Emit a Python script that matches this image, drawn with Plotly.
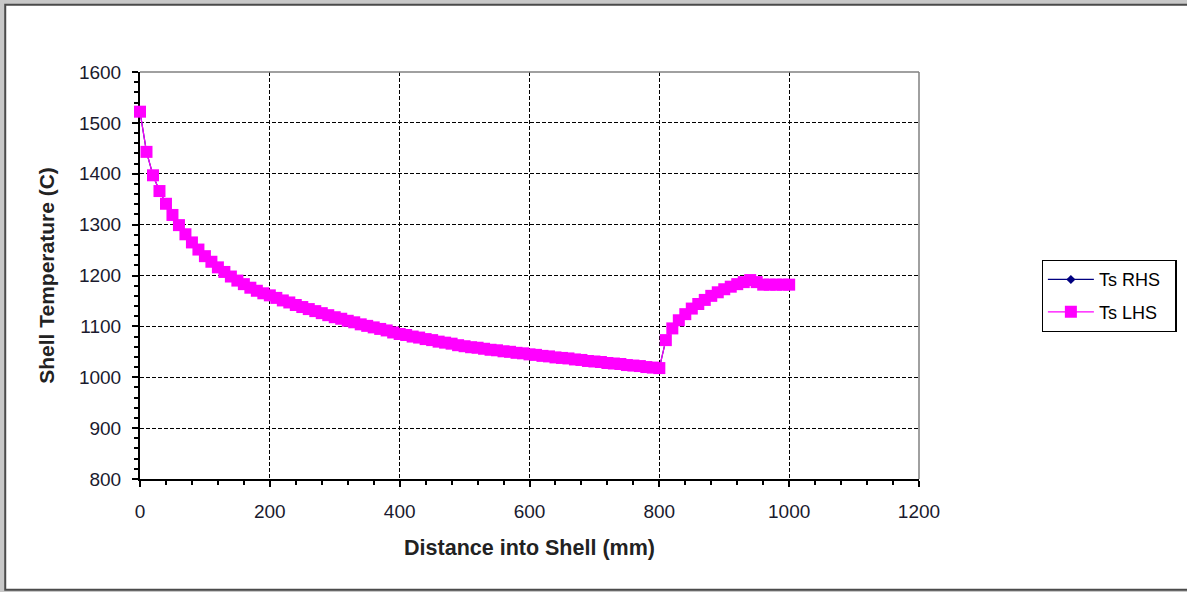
"""Shell temperature profile: Ts RHS / Ts LHS vs distance into shell."""
import plotly.graph_objects as go

# distance into shell (mm), 10 mm steps
dist_mm = [
    0, 10, 20, 30, 40, 50, 60, 70, 80, 90,
    100, 110, 120, 130, 140, 150, 160, 170, 180, 190,
    200, 210, 220, 230, 240, 250, 260, 270, 280, 290,
    300, 310, 320, 330, 340, 350, 360, 370, 380, 390,
    400, 410, 420, 430, 440, 450, 460, 470, 480, 490,
    500, 510, 520, 530, 540, 550, 560, 570, 580, 590,
    600, 610, 620, 630, 640, 650, 660, 670, 680, 690,
    700, 710, 720, 730, 740, 750, 760, 770, 780, 790,
    800, 810, 820, 830, 840, 850, 860, 870, 880, 890,
    900, 910, 920, 930, 940, 950, 960, 970, 980, 990,
    1000,
]

ts_lhs = [
    1522, 1443, 1397, 1366, 1341, 1319, 1299, 1281, 1265, 1251,
    1238, 1227, 1216, 1207, 1198, 1190, 1183, 1176, 1170, 1165,
    1161, 1156, 1151, 1147, 1142, 1138, 1134, 1130, 1126, 1122,
    1118, 1115, 1111, 1108, 1104, 1101, 1098, 1095, 1092, 1088,
    1085, 1083, 1080, 1078, 1075, 1073, 1070, 1068, 1066, 1063,
    1061, 1059, 1058, 1056, 1054, 1053, 1051, 1050, 1048, 1047,
    1045, 1044, 1042, 1041, 1039, 1038, 1037, 1035, 1034, 1032,
    1031, 1030, 1028, 1027, 1026, 1024, 1023, 1022, 1020, 1019,
    1018, 1073, 1096, 1112, 1124, 1135, 1144, 1152, 1160, 1167,
    1173, 1178, 1183, 1187, 1191, 1187, 1182, 1182, 1182, 1182,
    1182,
]

# RHS curve sits underneath the LHS one (same readings)
ts_rhs = [
    1522, 1443, 1397, 1366, 1341, 1319, 1299, 1281, 1265, 1251,
    1238, 1227, 1216, 1207, 1198, 1190, 1183, 1176, 1170, 1165,
    1161, 1156, 1151, 1147, 1142, 1138, 1134, 1130, 1126, 1122,
    1118, 1115, 1111, 1108, 1104, 1101, 1098, 1095, 1092, 1088,
    1085, 1083, 1080, 1078, 1075, 1073, 1070, 1068, 1066, 1063,
    1061, 1059, 1058, 1056, 1054, 1053, 1051, 1050, 1048, 1047,
    1045, 1044, 1042, 1041, 1039, 1038, 1037, 1035, 1034, 1032,
    1031, 1030, 1028, 1027, 1026, 1024, 1023, 1022, 1020, 1019,
    1018, 1073, 1096, 1112, 1124, 1135, 1144, 1152, 1160, 1167,
    1173, 1178, 1183, 1187, 1191, 1187, 1182, 1182, 1182, 1182,
    1182,
]

FONT = "Arial, Liberation Sans, sans-serif"
INK = "#1a1a2e"
WINDOW = "#c8c8c8"
PAD = "&nbsp;&nbsp;"  # Excel legend keeps some room after the text

fig = go.Figure()

fig.add_trace(go.Scatter(
    x=dist_mm, y=ts_rhs, mode="lines+markers", name="Ts RHS" + PAD,
    legendgroup="rhs", cliponaxis=False,
    line=dict(color="#000080", width=1.2),
    marker=dict(symbol="diamond", size=7, color="#000080"),
))
fig.add_trace(go.Scatter(
    x=dist_mm, y=ts_lhs, mode="lines+markers", name="Ts LHS" + PAD,
    legendgroup="lhs", cliponaxis=False,
    line=dict(color="#FF00FF", width=1.2),
    marker=dict(symbol="square", size=12, color="#FF00FF"),
))

# chart frame (white sheet on grey window) + grey plot-area edges
fig.add_shape(type="rect", xref="paper", yref="paper",
              x0=-0.173, x1=1.36, y0=-0.272, y1=1.165,
              fillcolor="white", line=dict(color="#4a4a4a", width=2),
              layer="below")
fig.add_shape(type="line", xref="x domain", yref="y domain",
              x0=0, x1=1, y0=1, y1=1, line=dict(color="#808080", width=1.5))
fig.add_shape(type="line", xref="x domain", yref="y domain",
              x0=1, x1=1, y0=0, y1=1, line=dict(color="#808080", width=1.5))

fig.update_layout(
    width=1187, height=592,
    margin=dict(l=140, r=267, t=72, b=113),
    paper_bgcolor=WINDOW,
    plot_bgcolor="#c0c0c0",
    font=dict(family=FONT, color=INK, size=19),
    showlegend=True,
    legend=dict(
        x=1.156, y=0.538, xanchor="left", yanchor="top",
        bgcolor="white", bordercolor="black", borderwidth=1.2,
        font=dict(family=FONT, size=18, color="black"),
        traceorder="grouped", tracegroupgap=6, itemwidth=46,
    ),
)

fig.update_xaxes(
    range=[0, 1200], tick0=0, dtick=200,
    showline=True, linecolor="black", linewidth=2,
    ticks="outside", ticklen=6, tickcolor="black", tickwidth=1.5,
    minor=dict(dtick=40, ticks="outside", ticklen=4, tickcolor="black",
               tickwidth=1.5, showgrid=False),
    showgrid=True, gridcolor="black", gridwidth=1, griddash="4px,2px",
    zeroline=False, layer="below traces",
    ticklabelstandoff=8,
    tickfont=dict(size=19, color=INK),
    title=dict(text="<b>Distance into Shell (mm)</b>", standoff=19,
               font=dict(size=21.5, color="#222")),
)
fig.update_yaxes(
    range=[800, 1600], tick0=800, dtick=100,
    showline=True, linecolor="black", linewidth=2,
    ticks="outside", ticklen=6, tickcolor="black", tickwidth=1.5,
    minor=dict(dtick=20, ticks="outside", ticklen=4, tickcolor="black",
               tickwidth=1.5, showgrid=False),
    showgrid=True, gridcolor="black", gridwidth=1, griddash="4px,2px",
    zeroline=False, layer="below traces",
    ticklabelstandoff=7,
    tickfont=dict(size=19, color=INK),
    title=dict(text="<b>Shell Temperature (C)</b>", standoff=19,
               font=dict(size=21, color="#222")),
)

# sheet sits flush in the window, no page margin
fig.write_html(
    "out.html",
    config={"displayModeBar": False},
    post_script=("document.body.style.margin='0';"
                 f"document.body.style.background='{WINDOW}';"),
)
